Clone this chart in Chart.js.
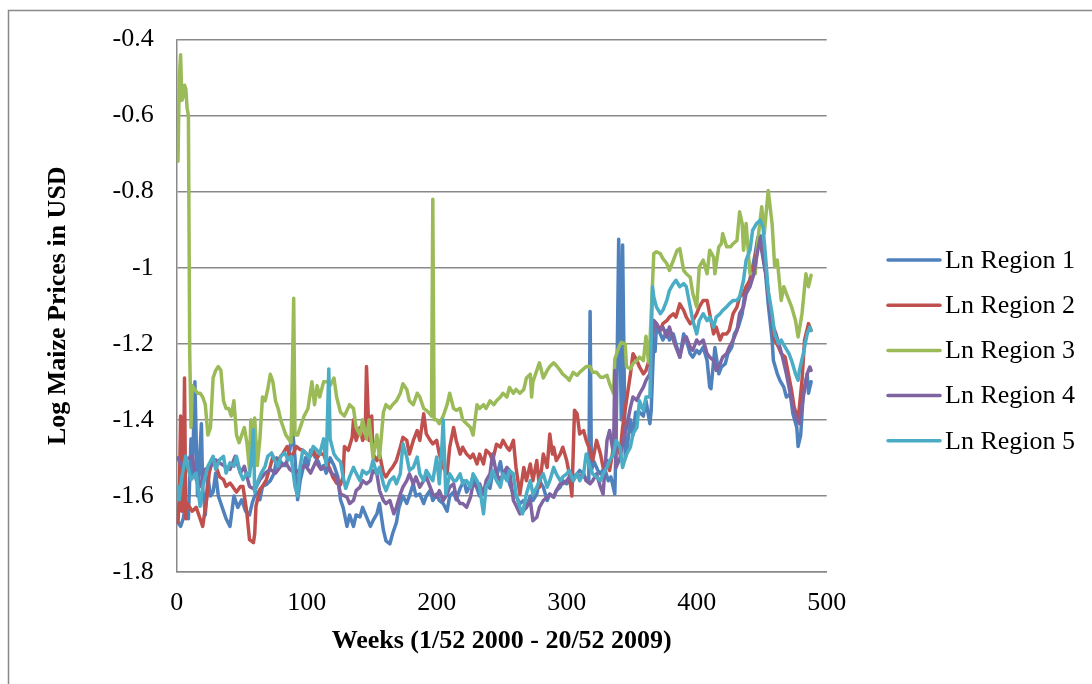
<!DOCTYPE html>
<html>
<head>
<meta charset="utf-8">
<title>Log Maize Prices</title>
<script src="https://cdn.jsdelivr.net/npm/chart.js@4.4.1/dist/chart.umd.min.js"></script>
<style>
  html, body { margin: 0; padding: 0; background: #ffffff; }
  canvas { display: block; }
</style>
</head>
<body>
<canvas id="chart" width="1092" height="684"></canvas>
<script>
// Series names and axis ticks
const seriesLabels = ['Ln Region 1', 'Ln Region 2', 'Ln Region 3', 'Ln Region 4', 'Ln Region 5'];
const xTicks = [0, 100, 200, 300, 400, 500];
const yTicks = [-1.8, -1.6, -1.4, -1.2, -1, -0.8, -0.6, -0.4];

// Ln Region 1
const region1Weeks = [1,3,5,7,9,11,12,14,15,16,17,19,20,22,24,26,28,30,32,34,36,38,41,44,47,50,53,56,58,60,62,64,66,69,72,75,77,80,82,84,86,87,89,91,93,95,97,99,101,103,105,107,109,111,113,115,118,121,124,126,128,131,133,136,138,141,143,146,149,151,154,156,159,161,164,166,169,171,174,177,179,182,184,187,190,192,195,197,200,202,205,208,210,213,215,218,221,223,226,228,231,233,236,238,241,243,246,249,251,254,256,259,261,264,267,269,272,274,277,279,282,285,287,290,292,295,297,300,302,305,308,310,313,315,317,318,319,321,324,326,329,332,334,337,338,340,342,343,345,346,349,351,353,356,359,361,364,365,367,368,369,372,374,377,379,382,384,387,390,392,395,397,400,402,405,408,410,411,414,417,419,422,424,427,429,432,435,437,440,442,445,447,449,450,453,455,458,459,462,464,467,469,472,474,477,478,480,482,485,486,488];
const region1Values = [-1.67,-1.68,-1.66,-1.62,-1.66,-1.45,-1.55,-1.30,-1.45,-1.60,-1.55,-1.41,-1.58,-1.65,-1.55,-1.60,-1.59,-1.54,-1.60,-1.62,-1.64,-1.66,-1.68,-1.60,-1.63,-1.61,-1.64,-1.65,-1.62,-1.60,-1.59,-1.61,-1.575,-1.57,-1.56,-1.54,-1.50,-1.51,-1.52,-1.52,-1.49,-1.48,-1.42,-1.50,-1.61,-1.56,-1.53,-1.50,-1.52,-1.48,-1.49,-1.50,-1.51,-1.53,-1.52,-1.54,-1.50,-1.52,-1.55,-1.61,-1.63,-1.68,-1.65,-1.68,-1.65,-1.655,-1.63,-1.655,-1.68,-1.665,-1.647,-1.62,-1.69,-1.718,-1.726,-1.70,-1.67,-1.63,-1.60,-1.62,-1.60,-1.568,-1.60,-1.595,-1.62,-1.60,-1.585,-1.612,-1.595,-1.612,-1.62,-1.64,-1.60,-1.59,-1.61,-1.58,-1.56,-1.59,-1.57,-1.55,-1.58,-1.60,-1.59,-1.57,-1.58,-1.54,-1.55,-1.51,-1.55,-1.53,-1.568,-1.595,-1.60,-1.62,-1.612,-1.63,-1.60,-1.612,-1.595,-1.56,-1.577,-1.612,-1.595,-1.603,-1.586,-1.577,-1.56,-1.568,-1.56,-1.55,-1.542,-1.533,-1.542,-1.56,-1.56,-1.115,-1.533,-1.51,-1.533,-1.542,-1.525,-1.56,-1.55,-1.595,-1.46,-0.925,-1.40,-0.94,-1.50,-1.49,-1.40,-1.44,-1.38,-1.38,-1.39,-1.35,-1.41,-1.375,-1.19,-1.22,-1.156,-1.174,-1.19,-1.165,-1.19,-1.174,-1.20,-1.235,-1.174,-1.19,-1.226,-1.235,-1.217,-1.226,-1.209,-1.244,-1.314,-1.318,-1.21,-1.279,-1.261,-1.252,-1.226,-1.209,-1.174,-1.156,-1.121,-1.068,-1.042,-1.016,-0.963,-0.92,-0.916,-0.954,-1.016,-1.095,-1.19,-1.244,-1.279,-1.296,-1.314,-1.34,-1.332,-1.384,-1.42,-1.47,-1.44,-1.33,-1.279,-1.33,-1.30];

// Ln Region 2
const region2Weeks = [1,2,3,4,5,6,7,8,10,12,15,18,20,23,25,28,30,33,36,38,41,43,46,49,51,54,56,59,60,61,64,66,69,72,74,77,80,82,85,87,90,92,95,97,100,102,105,108,110,113,115,118,120,123,126,128,129,132,135,136,138,141,143,145,146,148,150,151,154,156,159,161,164,166,169,172,174,177,179,182,185,187,190,192,195,197,200,202,205,208,210,213,215,218,220,223,226,228,231,233,236,238,241,243,246,249,251,254,256,259,261,264,267,269,272,274,277,279,282,285,287,289,290,292,295,297,300,302,304,306,308,310,313,315,318,320,323,326,328,331,333,336,338,341,343,346,349,351,354,356,359,361,364,367,369,372,374,377,379,382,384,387,390,392,395,397,400,402,405,408,410,413,415,418,420,423,425,428,431,433,436,438,441,444,446,447,450,453,455,458,460,463,465,468,470,473,475,478,481,483,486,488];
const region2Values = [-1.67,-1.60,-1.39,-1.64,-1.63,-1.29,-1.66,-1.62,-1.63,-1.64,-1.63,-1.66,-1.68,-1.61,-1.54,-1.50,-1.52,-1.55,-1.557,-1.575,-1.566,-1.575,-1.59,-1.575,-1.575,-1.645,-1.715,-1.723,-1.70,-1.627,-1.583,-1.575,-1.557,-1.522,-1.496,-1.513,-1.496,-1.487,-1.47,-1.496,-1.487,-1.47,-1.478,-1.48,-1.49,-1.50,-1.48,-1.50,-1.49,-1.49,-1.51,-1.53,-1.55,-1.566,-1.57,-1.55,-1.47,-1.48,-1.446,-1.40,-1.454,-1.42,-1.454,-1.44,-1.26,-1.454,-1.39,-1.49,-1.507,-1.49,-1.54,-1.55,-1.533,-1.525,-1.507,-1.472,-1.446,-1.454,-1.49,-1.454,-1.428,-1.454,-1.384,-1.437,-1.454,-1.463,-1.454,-1.49,-1.525,-1.542,-1.472,-1.42,-1.454,-1.49,-1.472,-1.49,-1.50,-1.49,-1.516,-1.49,-1.516,-1.48,-1.49,-1.507,-1.464,-1.472,-1.454,-1.472,-1.48,-1.454,-1.525,-1.595,-1.525,-1.56,-1.516,-1.56,-1.507,-1.577,-1.49,-1.525,-1.437,-1.49,-1.472,-1.507,-1.49,-1.472,-1.507,-1.542,-1.60,-1.375,-1.384,-1.437,-1.428,-1.454,-1.48,-1.507,-1.454,-1.49,-1.525,-1.507,-1.533,-1.472,-1.454,-1.49,-1.42,-1.349,-1.28,-1.226,-1.244,-1.261,-1.279,-1.27,-1.235,-1.139,-1.147,-1.165,-1.147,-1.139,-1.13,-1.121,-1.13,-1.095,-1.112,-1.13,-1.147,-1.139,-1.121,-1.103,-1.086,-1.086,-1.121,-1.174,-1.156,-1.19,-1.174,-1.174,-1.165,-1.121,-1.103,-1.077,-1.068,-1.05,-1.033,-0.998,-0.954,-0.928,-0.946,-1.007,-1.068,-1.139,-1.19,-1.209,-1.226,-1.235,-1.27,-1.323,-1.367,-1.40,-1.296,-1.19,-1.147,-1.165];

// Ln Region 3
const region3Weeks = [1,2,3,4,5,6,7,8,9,10,11,12,14,16,18,20,22,24,26,28,30,32,34,36,38,40,42,44,46,48,50,52,54,56,57,58,60,62,64,66,68,70,72,74,76,78,80,82,84,86,88,90,91,93,96,98,101,104,106,108,110,113,116,118,121,123,126,129,133,136,138,141,143,146,148,151,154,156,159,161,164,166,169,172,174,177,179,182,185,187,190,192,195,196,197,198,200,202,205,208,210,213,215,218,220,223,226,228,231,233,236,238,241,244,246,249,251,254,256,259,261,264,267,269,272,273,274,277,279,282,285,287,290,292,295,297,300,302,305,308,310,313,315,318,320,323,326,328,331,333,336,337,340,342,345,346,349,351,354,356,359,361,363,364,367,369,372,374,377,379,382,385,387,390,392,395,397,400,402,405,408,410,413,414,417,419,420,423,426,428,431,433,435,436,438,441,445,447,450,452,455,458,460,462,465,467,469,473,476,478,481,482,484,486,488];
const region3Values = [-0.72,-0.50,-0.44,-0.56,-0.55,-0.52,-0.53,-0.58,-0.60,-1.22,-1.42,-1.31,-1.32,-1.33,-1.33,-1.34,-1.36,-1.44,-1.42,-1.29,-1.27,-1.26,-1.27,-1.35,-1.37,-1.37,-1.39,-1.35,-1.44,-1.46,-1.44,-1.42,-1.46,-1.53,-1.40,-1.52,-1.395,-1.52,-1.45,-1.34,-1.35,-1.32,-1.28,-1.30,-1.35,-1.37,-1.40,-1.42,-1.44,-1.45,-1.46,-1.08,-1.44,-1.44,-1.41,-1.39,-1.37,-1.30,-1.36,-1.31,-1.34,-1.30,-1.30,-1.31,-1.29,-1.34,-1.38,-1.39,-1.36,-1.37,-1.42,-1.44,-1.40,-1.45,-1.40,-1.50,-1.44,-1.50,-1.38,-1.36,-1.37,-1.36,-1.35,-1.33,-1.305,-1.32,-1.35,-1.36,-1.33,-1.34,-1.37,-1.375,-1.385,-1.39,-0.82,-1.40,-1.40,-1.41,-1.39,-1.36,-1.33,-1.37,-1.375,-1.37,-1.40,-1.41,-1.42,-1.44,-1.36,-1.37,-1.36,-1.37,-1.35,-1.36,-1.35,-1.34,-1.33,-1.34,-1.315,-1.33,-1.32,-1.33,-1.32,-1.29,-1.28,-1.34,-1.30,-1.27,-1.25,-1.29,-1.27,-1.26,-1.25,-1.257,-1.27,-1.28,-1.288,-1.296,-1.275,-1.283,-1.275,-1.266,-1.26,-1.26,-1.275,-1.275,-1.288,-1.288,-1.283,-1.305,-1.33,-1.24,-1.21,-1.196,-1.20,-1.26,-1.266,-1.252,-1.244,-1.235,-1.244,-1.18,-1.25,-1.20,-0.963,-0.958,-0.963,-0.976,-0.989,-1.007,-0.981,-0.954,-0.95,-1.007,-1.016,-1.025,-1.068,-1.103,-0.998,-0.98,-1.016,-0.954,-0.972,-1.016,-0.945,-0.937,-0.91,-0.945,-0.945,-0.937,-0.928,-0.853,-0.884,-0.954,-0.884,-1.016,-1.016,-0.928,-0.84,-0.91,-0.797,-0.884,-0.998,-0.98,-1.086,-1.05,-1.068,-1.103,-1.139,-1.182,-1.121,-1.086,-1.016,-1.05,-1.02];

// Ln Region 4
const region4Weeks = [1,4,7,12,15,18,22,26,30,33,37,41,45,49,52,56,60,64,68,72,76,80,84,87,91,95,99,103,107,111,115,119,123,126,129,131,133,136,138,141,143,146,149,151,154,156,159,161,164,167,169,172,174,177,179,182,184,187,190,192,195,197,200,202,205,208,210,213,215,218,220,223,226,228,231,233,236,238,241,243,246,249,251,254,256,259,261,264,267,269,272,274,277,279,282,285,287,290,292,295,297,300,302,305,308,310,313,315,318,320,323,326,328,331,333,336,337,338,341,343,346,349,351,354,356,359,361,364,367,369,372,374,377,379,382,384,387,390,392,395,397,400,402,405,408,410,413,415,418,420,423,425,428,431,433,436,438,441,444,446,449,451,454,456,459,461,464,466,469,471,474,477,479,482,485,487,488];
const region4Values = [-1.50,-1.522,-1.505,-1.496,-1.557,-1.575,-1.53,-1.522,-1.505,-1.513,-1.522,-1.53,-1.496,-1.54,-1.522,-1.575,-1.583,-1.557,-1.54,-1.53,-1.54,-1.522,-1.513,-1.53,-1.54,-1.53,-1.52,-1.54,-1.51,-1.53,-1.52,-1.54,-1.55,-1.595,-1.60,-1.603,-1.62,-1.612,-1.586,-1.577,-1.56,-1.568,-1.56,-1.533,-1.542,-1.586,-1.612,-1.62,-1.612,-1.647,-1.63,-1.595,-1.577,-1.56,-1.542,-1.568,-1.55,-1.577,-1.56,-1.55,-1.577,-1.595,-1.603,-1.586,-1.612,-1.595,-1.577,-1.568,-1.603,-1.62,-1.62,-1.63,-1.603,-1.568,-1.577,-1.568,-1.595,-1.56,-1.542,-1.49,-1.542,-1.56,-1.542,-1.525,-1.533,-1.612,-1.625,-1.647,-1.638,-1.63,-1.612,-1.665,-1.656,-1.63,-1.612,-1.603,-1.595,-1.603,-1.586,-1.568,-1.568,-1.56,-1.55,-1.56,-1.542,-1.55,-1.542,-1.56,-1.568,-1.56,-1.542,-1.577,-1.595,-1.454,-1.428,-1.49,-1.27,-1.525,-1.50,-1.463,-1.42,-1.367,-1.34,-1.349,-1.332,-1.314,-1.296,-1.279,-1.139,-1.147,-1.165,-1.156,-1.182,-1.156,-1.19,-1.209,-1.235,-1.19,-1.182,-1.209,-1.217,-1.19,-1.20,-1.19,-1.226,-1.235,-1.244,-1.27,-1.252,-1.235,-1.226,-1.209,-1.19,-1.165,-1.121,-1.103,-1.068,-1.05,-1.016,-0.972,-0.92,-0.963,-1.033,-1.103,-1.156,-1.174,-1.209,-1.235,-1.279,-1.314,-1.367,-1.40,-1.41,-1.34,-1.279,-1.261,-1.27];

// Ln Region 5
const region5Weeks = [1,2,4,7,9,11,15,18,20,24,28,30,33,36,38,41,44,46,49,51,54,56,58,59,60,63,65,68,70,73,75,78,80,83,86,88,91,93,95,97,100,102,105,108,110,113,115,117,118,121,123,126,128,130,133,136,138,141,143,146,149,151,154,156,159,161,164,167,169,172,174,177,179,182,185,187,190,192,195,197,200,202,204,205,207,210,213,215,218,220,223,226,228,231,233,236,238,241,243,246,249,251,254,256,259,261,264,266,269,272,274,277,279,282,285,287,290,292,295,297,300,302,305,308,310,313,315,318,320,323,326,328,331,333,336,338,341,343,346,349,351,354,356,359,361,364,366,367,369,372,374,377,379,382,384,387,390,392,395,397,400,402,405,408,410,413,415,418,420,423,425,428,431,433,436,438,441,443,446,449,451,453,455,458,460,463,465,468,471,473,476,478,479,482,485,487,488];
const region5Values = [-1.575,-1.61,-1.55,-1.495,-1.53,-1.557,-1.54,-1.627,-1.575,-1.522,-1.496,-1.53,-1.505,-1.496,-1.54,-1.513,-1.522,-1.496,-1.54,-1.557,-1.54,-1.548,-1.48,-1.426,-1.59,-1.557,-1.54,-1.522,-1.496,-1.487,-1.505,-1.522,-1.496,-1.487,-1.505,-1.496,-1.575,-1.60,-1.52,-1.48,-1.49,-1.50,-1.47,-1.48,-1.49,-1.45,-1.52,-1.266,-1.45,-1.49,-1.50,-1.51,-1.55,-1.58,-1.55,-1.525,-1.54,-1.56,-1.533,-1.542,-1.533,-1.507,-1.542,-1.525,-1.568,-1.586,-1.56,-1.55,-1.568,-1.542,-1.463,-1.498,-1.533,-1.525,-1.498,-1.542,-1.56,-1.533,-1.55,-1.56,-1.498,-1.568,-1.47,-1.40,-1.595,-1.542,-1.56,-1.56,-1.542,-1.568,-1.56,-1.577,-1.542,-1.56,-1.577,-1.647,-1.577,-1.56,-1.533,-1.56,-1.577,-1.542,-1.56,-1.533,-1.542,-1.595,-1.63,-1.647,-1.595,-1.56,-1.595,-1.577,-1.56,-1.542,-1.577,-1.56,-1.525,-1.542,-1.56,-1.55,-1.542,-1.533,-1.56,-1.542,-1.56,-1.542,-1.49,-1.525,-1.542,-1.55,-1.56,-1.542,-1.525,-1.507,-1.49,-1.454,-1.472,-1.525,-1.49,-1.472,-1.437,-1.42,-1.35,-1.375,-1.34,-1.34,-1.05,-1.077,-1.103,-1.121,-1.112,-1.086,-1.06,-1.042,-1.033,-1.05,-1.042,-1.05,-1.103,-1.139,-1.174,-1.139,-1.121,-1.139,-1.13,-1.156,-1.13,-1.121,-1.112,-1.103,-1.095,-1.086,-1.086,-1.077,-1.033,-0.98,-0.954,-0.902,-0.884,-0.875,-0.893,-0.972,-1.06,-1.121,-1.174,-1.20,-1.19,-1.209,-1.226,-1.244,-1.279,-1.296,-1.27,-1.226,-1.174,-1.156,-1.165];

const seriesWeeks = [region1Weeks, region2Weeks, region3Weeks, region4Weeks, region5Weeks];
const seriesValues = [region1Values, region2Values, region3Values, region4Values, region5Values];

// Office-style palette
const palette = ['#4F81BD', '#C0504D', '#9BBB59', '#8064A2', '#4BACC6'];
const gridGray = '#898989';
const serif = '"Liberation Serif", "Times New Roman", Times, serif';

const datasets = seriesLabels.map((label, i) => ({
  label,
  data: seriesWeeks[i].map((w, j) => ({ x: w, y: seriesValues[i][j] })),
  borderColor: palette[i],
  backgroundColor: palette[i],
  borderWidth: 3.5,
  borderJoinStyle: 'round',
  borderCapStyle: 'round',
  pointRadius: 0,
  pointHoverRadius: 0,
  tension: 0,
  fill: false,
  // later series sit on top, as in a spreadsheet chart
  order: seriesLabels.length - 1 - i
}));

// White page with the thin outer chart frame
const framePlugin = {
  id: 'frame',
  beforeDraw(chart) {
    const ctx = chart.ctx;
    ctx.save();
    ctx.fillStyle = '#ffffff';
    ctx.fillRect(0, 0, chart.width, chart.height);
    ctx.strokeStyle = gridGray;
    ctx.lineWidth = 1.5;
    ctx.beginPath();
    ctx.moveTo(8.5, chart.height);
    ctx.lineTo(8.5, 10.5);
    ctx.lineTo(chart.width, 10.5);
    ctx.stroke();
    ctx.restore();
  }
};

// Legend at the right: short coloured line plus series name
const legendPlugin = {
  id: 'sideLegend',
  afterDraw(chart) {
    const ctx = chart.ctx;
    ctx.save();
    ctx.font = '26px ' + serif;
    ctx.textBaseline = 'middle';
    ctx.textAlign = 'left';
    chart.data.datasets.forEach((ds, i) => {
      const y = 260 + i * 45.2;
      ctx.strokeStyle = ds.borderColor;
      ctx.lineWidth = 3.5;
      ctx.lineCap = 'round';
      ctx.beginPath();
      ctx.moveTo(888, y);
      ctx.lineTo(940, y);
      ctx.stroke();
      ctx.fillStyle = '#000000';
      ctx.fillText(ds.label, 945, y + 1);
    });
    ctx.restore();
  }
};

new Chart(document.getElementById('chart'), {
  type: 'line',
  data: { datasets },
  plugins: [framePlugin, legendPlugin],
  options: {
    responsive: false,
    devicePixelRatio: 1,
    animation: false,
    events: [],
    layout: { padding: { left: 0, top: 39.5, right: 265.3, bottom: 0 } },
    plugins: {
      legend: { display: false },
      tooltip: { enabled: false }
    },
    scales: {
      x: {
        type: 'linear',
        min: 0,
        max: 500,
        afterBuildTicks: (scale) => { scale.ticks = xTicks.map(v => ({ value: v })); },
        afterFit: (scale) => { scale.height = 112; },
        grid: { display: false, drawTicks: false },
        border: { display: true, color: gridGray, width: 1.5 },
        ticks: {
          padding: 16,
          color: '#000000',
          font: { family: serif, size: 26 },
          callback: (v) => String(v)
        },
        title: {
          display: true,
          text: 'Weeks (1/52 2000 - 20/52 2009)',
          color: '#000000',
          font: { family: serif, size: 26, weight: 'bold' },
          padding: { top: 0, bottom: 27 }
        }
      },
      y: {
        type: 'linear',
        min: -1.8,
        max: -0.4,
        afterBuildTicks: (scale) => { scale.ticks = yTicks.map(v => ({ value: v })); },
        afterFit: (scale) => { scale.width = 176.7; },
        grid: { display: true, color: gridGray, lineWidth: 1.5, drawTicks: false },
        border: { display: true, color: gridGray, width: 1.5 },
        ticks: {
          padding: 23,
          color: '#000000',
          font: { family: serif, size: 26 },
          callback: (v) => String(v)
        },
        title: {
          display: true,
          text: 'Log Maize Prices in USD',
          color: '#000000',
          font: { family: serif, size: 26, weight: 'bold' },
          padding: { top: 43, bottom: 0 }
        }
      }
    }
  }
});
</script>
</body>
</html>
